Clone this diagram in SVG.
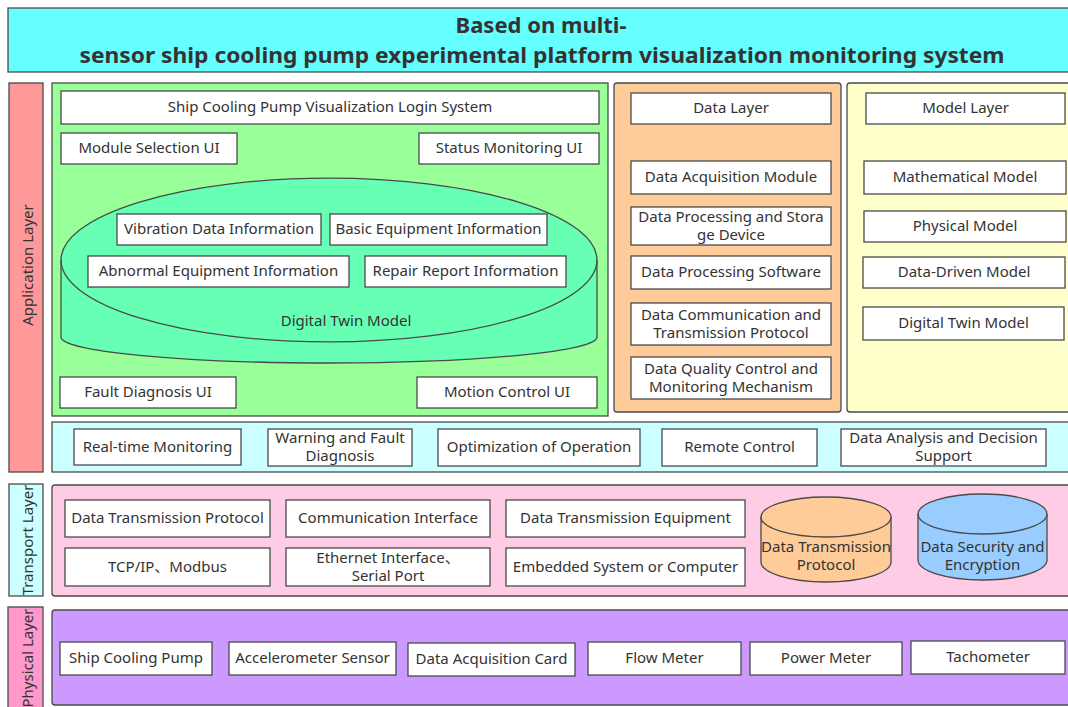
<svg xmlns="http://www.w3.org/2000/svg" width="1068" height="707" viewBox="0 0 1068 707">
<style>
  .bx { fill: #ffffff; stroke: #4a4a4a; stroke-width: 1.3; }
  .pn { stroke: #4a4a4a; stroke-width: 1.3; }
  .t { font-family: "Noto Sans", "Noto Sans CJK SC", sans-serif; font-size: 15px; fill: #333333; text-anchor: middle; dominant-baseline: central; }
  .t:not(.r) { transform: translateY(-1.5px); }
  .tt { font-family: "Noto Sans", "Noto Sans CJK SC", sans-serif; font-size: 22px; font-weight: bold; fill: #333333; text-anchor: middle; }
</style>
<rect width="1068" height="707" fill="#ffffff"/>

<g id="title">
  <rect class="pn" x="8" y="8" width="1064" height="64" fill="#66FFFF"/>
  <text class="tt" x="541" y="33">Based on multi-</text>
  <text class="tt" x="542" y="63" textLength="925" lengthAdjust="spacingAndGlyphs">sensor ship cooling pump experimental platform visualization monitoring system</text>
</g>

<g id="side-labels">
  <g id="application-layer">
    <rect class="pn" x="9" y="83" width="34" height="389" fill="#FF9999"/>
    <text class="t r" transform="translate(27,265) rotate(-90)" x="0" y="0">Application Layer</text>
  </g>
  <g id="transport-layer">
    <rect class="pn" x="9" y="484" width="34" height="112" fill="#CCFFFF"/>
    <text class="t r" transform="translate(27,540) rotate(-90)" x="0" y="0">Transport Layer</text>
  </g>
  <g id="physical-layer">
    <rect class="pn" x="8" y="607" width="35" height="106" fill="#FF99CC"/>
    <text class="t r" transform="translate(27,658) rotate(-90)" x="0" y="0">Physical Layer</text>
  </g>
</g>

<g id="ui-panel">
  <rect class="pn" x="52" y="83" width="556" height="333" fill="#99FF99"/>
  <g id="login"><rect class="bx" x="61" y="91" width="538" height="33"/><text class="t" x="330" y="107.5">Ship Cooling Pump Visualization Login System</text></g>
  <g id="module-selection"><rect class="bx" x="61" y="133" width="176" height="31"/><text class="t" x="149" y="148.5">Module Selection UI</text></g>
  <g id="status-monitoring"><rect class="bx" x="419" y="133" width="180" height="31"/><text class="t" x="509" y="148.5">Status Monitoring UI</text></g>
  <g id="digital-twin-cylinder">
    <path class="pn" fill="#66FFB3" d="M61,260 A268,82 0 0 1 597,260 L597,337 A268,26 0 0 1 61,337 Z"/>
    <path fill="none" stroke="#4a4a4a" stroke-width="1.3" d="M61,260 A268,82 0 0 0 597,260"/>
    <text class="t" x="346" y="321">Digital Twin Model</text>
  </g>
  <g id="vibration"><rect class="bx" x="117" y="214" width="204" height="31"/><text class="t" x="219" y="229.5">Vibration Data Information</text></g>
  <g id="basic-equipment"><rect class="bx" x="330" y="214" width="217" height="31"/><text class="t" x="438.5" y="229.5">Basic Equipment Information</text></g>
  <g id="abnormal-equipment"><rect class="bx" x="88" y="256" width="261" height="31"/><text class="t" x="218.5" y="271.5">Abnormal Equipment Information</text></g>
  <g id="repair-report"><rect class="bx" x="365" y="256" width="201" height="31"/><text class="t" x="465.5" y="271.5">Repair Report Information</text></g>
  <g id="fault-diagnosis-ui"><rect class="bx" x="60" y="377" width="176" height="31"/><text class="t" x="148" y="392.5">Fault Diagnosis UI</text></g>
  <g id="motion-control-ui"><rect class="bx" x="417" y="377" width="180" height="31"/><text class="t" x="507" y="392.5">Motion Control UI</text></g>
</g>

<g id="data-panel">
  <rect class="pn" x="614" y="83" width="227" height="329" rx="3" fill="#FFCC99"/>
  <g id="data-layer"><rect class="bx" x="631" y="93" width="200" height="31"/><text class="t" x="731" y="108.5">Data Layer</text></g>
  <g id="data-acquisition-module"><rect class="bx" x="631" y="161" width="200" height="33"/><text class="t" x="731" y="177.5">Data Acquisition Module</text></g>
  <g id="data-processing-storage"><rect class="bx" x="631" y="207" width="200" height="38"/><text class="t" x="731" y="217">Data Processing and Stora</text><text class="t" x="731" y="235">ge Device</text></g>
  <g id="data-processing-software"><rect class="bx" x="631" y="256" width="200" height="33"/><text class="t" x="731" y="272.5">Data Processing Software</text></g>
  <g id="data-communication"><rect class="bx" x="631" y="303" width="200" height="42"/><text class="t" x="731" y="315">Data Communication and</text><text class="t" x="731" y="333">Transmission Protocol</text></g>
  <g id="data-quality"><rect class="bx" x="631" y="357" width="200" height="42"/><text class="t" x="731" y="369">Data Quality Control and</text><text class="t" x="731" y="387">Monitoring Mechanism</text></g>
</g>

<g id="model-panel">
  <rect class="pn" x="847" y="83" width="228" height="329" rx="3" fill="#FFFFCC"/>
  <g id="model-layer"><rect class="bx" x="866" y="93" width="199" height="31"/><text class="t" x="965.5" y="108.5">Model Layer</text></g>
  <g id="mathematical-model"><rect class="bx" x="864" y="161" width="202" height="33"/><text class="t" x="965" y="177.5">Mathematical Model</text></g>
  <g id="physical-model"><rect class="bx" x="864" y="211" width="202" height="31"/><text class="t" x="965" y="226.5">Physical Model</text></g>
  <g id="data-driven-model"><rect class="bx" x="863" y="257" width="202" height="31"/><text class="t" x="964" y="272.5">Data-Driven Model</text></g>
  <g id="digital-twin-model"><rect class="bx" x="863" y="307" width="201" height="33"/><text class="t" x="963.5" y="323.5">Digital Twin Model</text></g>
</g>

<g id="function-row">
  <rect class="pn" x="52" y="422" width="1020" height="50" fill="#CCFFFF"/>
  <g id="realtime-monitoring"><rect class="bx" x="74" y="429" width="167" height="36"/><text class="t" x="157.5" y="447">Real-time Monitoring</text></g>
  <g id="warning-fault"><rect class="bx" x="268" y="429" width="144" height="37"/><text class="t" x="340" y="438.5">Warning and Fault</text><text class="t" x="340" y="456.5">Diagnosis</text></g>
  <g id="optimization"><rect class="bx" x="438" y="429" width="202" height="37"/><text class="t" x="539" y="447.5">Optimization of Operation</text></g>
  <g id="remote-control"><rect class="bx" x="662" y="429" width="155" height="37"/><text class="t" x="739.5" y="447.5">Remote Control</text></g>
  <g id="data-analysis"><rect class="bx" x="841" y="429" width="205" height="37"/><text class="t" x="943.5" y="438.5">Data Analysis and Decision</text><text class="t" x="943.5" y="456.5">Support</text></g>
</g>

<g id="transport-panel">
  <rect class="pn" x="52" y="485" width="1020" height="111" rx="3" fill="#FFCCE6"/>
  <g id="dt-protocol"><rect class="bx" x="65" y="500" width="205" height="37"/><text class="t" x="167.5" y="518.5">Data Transmission Protocol</text></g>
  <g id="tcpip"><rect class="bx" x="65" y="548" width="205" height="38"/><text class="t" x="167.5" y="567">TCP/IP、Modbus</text></g>
  <g id="comm-interface"><rect class="bx" x="286" y="500" width="204" height="37"/><text class="t" x="388" y="518.5">Communication Interface</text></g>
  <g id="ethernet"><rect class="bx" x="286" y="548" width="204" height="38"/><text class="t" x="388" y="558">Ethernet Interface、</text><text class="t" x="388" y="576">Serial Port</text></g>
  <g id="dt-equipment"><rect class="bx" x="506" y="500" width="239" height="37"/><text class="t" x="625.5" y="518.5">Data Transmission Equipment</text></g>
  <g id="embedded"><rect class="bx" x="506" y="548" width="239" height="38"/><text class="t" x="625.5" y="567">Embedded System or Computer</text></g>
  <g id="dt-protocol-cylinder">
    <path class="pn" fill="#FFCC99" d="M761,517 A65,20 0 0 1 891,517 L891,562 A65,20 0 0 1 761,562 Z"/>
    <path fill="none" stroke="#4a4a4a" stroke-width="1.3" d="M761,517 A65,20 0 0 0 891,517"/>
    <text class="t" x="826" y="547">Data Transmission</text><text class="t" x="826" y="565">Protocol</text>
  </g>
  <g id="security-cylinder">
    <path class="pn" fill="#99CCFF" d="M918,514 A64.5,20 0 0 1 1047,514 L1047,560 A64.5,20 0 0 1 918,560 Z"/>
    <path fill="none" stroke="#4a4a4a" stroke-width="1.3" d="M918,514 A64.5,20 0 0 0 1047,514"/>
    <text class="t" x="982.5" y="547">Data Security and</text><text class="t" x="982.5" y="565">Encryption</text>
  </g>
</g>

<g id="physical-panel">
  <rect class="pn" x="52" y="610" width="1020" height="95" rx="3" fill="#CC99FF"/>
  <g id="ship-cooling-pump"><rect class="bx" x="60" y="642" width="152" height="33"/><text class="t" x="136" y="658.5">Ship Cooling Pump</text></g>
  <g id="accelerometer"><rect class="bx" x="229" y="642" width="167" height="33"/><text class="t" x="312.5" y="658.5">Accelerometer Sensor</text></g>
  <g id="daq-card"><rect class="bx" x="408" y="643" width="167" height="33"/><text class="t" x="491.5" y="659.5">Data Acquisition Card</text></g>
  <g id="flow-meter"><rect class="bx" x="588" y="642" width="153" height="33"/><text class="t" x="664.5" y="658.5">Flow Meter</text></g>
  <g id="power-meter"><rect class="bx" x="750" y="642" width="152" height="33"/><text class="t" x="826" y="658.5">Power Meter</text></g>
  <g id="tachometer"><rect class="bx" x="911" y="641" width="154" height="33"/><text class="t" x="988" y="657.5">Tachometer</text></g>
</g>

<g id="connectors"></g>
</svg>
